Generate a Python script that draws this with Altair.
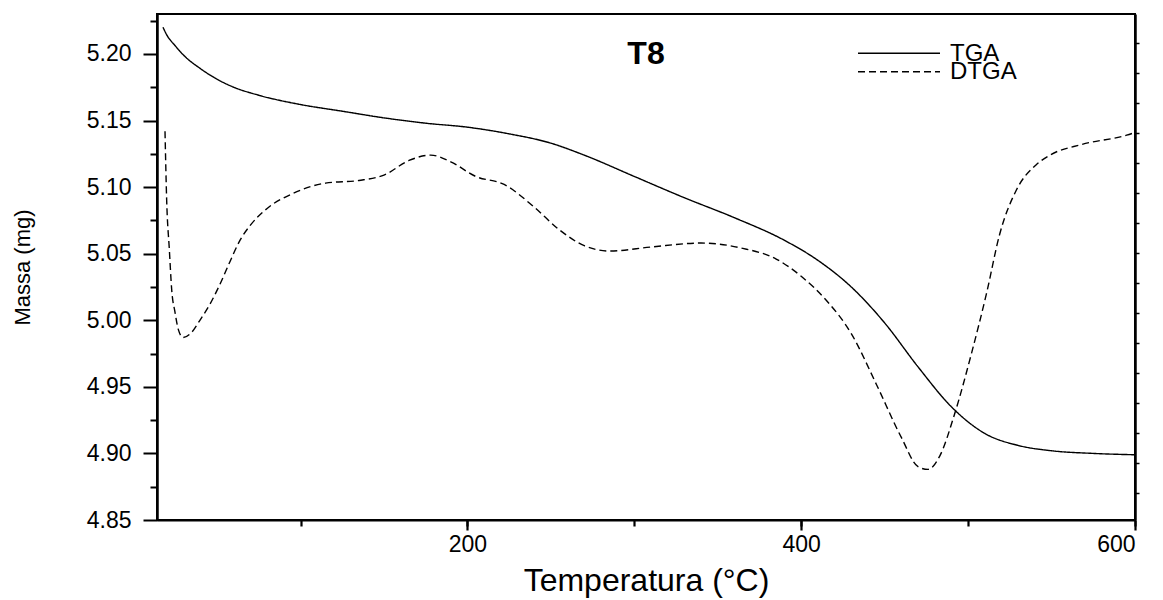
import altair as alt
import pandas as pd

# ---- data ----
tga_temp = [17.6, 20, 25, 30, 40, 50, 60, 75, 100, 125, 150, 175, 200, 225, 250, 270,
            300, 330, 360, 390, 410, 430, 450, 470, 490, 510, 530, 550, 575, 600]
tga_mass = [5.220, 5.214, 5.206, 5.199, 5.189, 5.181, 5.175, 5.169, 5.162, 5.157, 5.152,
            5.148, 5.145, 5.140, 5.133, 5.124, 5.108, 5.092, 5.077, 5.060, 5.045, 5.025,
            4.998, 4.965, 4.935, 4.915, 4.906, 4.902, 4.900, 4.899]

dtga_temp = [18.8, 19.8, 21.4, 22.8, 24.8, 26.8, 29.7, 34.8, 39.7, 45.7, 51.7, 57.7, 63.7,
             69.7, 80, 95, 115, 135, 150, 165, 178, 190, 205, 222, 240, 255, 270, 285, 310,
             340, 365, 385, 400, 415, 430, 445, 460, 470, 476, 483, 492, 502, 511, 519, 529,
             541, 549, 568, 595, 600]
dtga_mass = [5.142, 5.090, 5.053, 5.023, 5.006, 4.993, 4.987, 4.991, 5.000, 5.012, 5.027,
             5.044, 5.060, 5.071, 5.084, 5.095, 5.103, 5.105, 5.109, 5.120, 5.124, 5.119,
             5.108, 5.102, 5.085, 5.068, 5.056, 5.052, 5.055, 5.058, 5.054, 5.046, 5.033,
             5.015, 4.990, 4.952, 4.912, 4.890, 4.888, 4.898, 4.930, 4.975, 5.020, 5.065,
             5.098, 5.117, 5.124, 5.132, 5.139, 5.141]

series_names = ["TGA", "DTGA"]
x_major_ticks = [200, 400, 600]
x_minor_ticks = [100, 200, 300, 400, 500, 600]
y_major_ticks = [4.85, 4.90, 4.95, 5.00, 5.05, 5.10, 5.15, 5.20]
y_minor_ticks = [4.875, 4.925, 4.975, 5.025, 5.075, 5.125, 5.175, 5.225]
y_right_ticks = [5.208, 5.1855, 5.163, 5.1405, 5.118, 5.0955, 5.073, 5.0505, 5.028,
                 5.0055, 4.983, 4.9605, 4.938, 4.9155, 4.893, 4.8705]
chart_label = "T8"

# ---- styles ----
FONT = "Liberation Sans"
DASHES = [[1, 0], [7, 4]]
LINE_W = 1.4

df = pd.concat([
    pd.DataFrame({"temp": tga_temp, "mass": tga_mass, "series": series_names[0], "order": range(len(tga_temp))}),
    pd.DataFrame({"temp": dtga_temp, "mass": dtga_mass, "series": series_names[1], "order": range(len(dtga_temp))}),
], ignore_index=True)

xscale = alt.Scale(domain=[14, 600], nice=False, zero=False)
yscale = alt.Scale(domain=[4.85, 5.23], nice=False, zero=False)

lines = alt.Chart(df).mark_line(color="black", strokeWidth=LINE_W, interpolate="monotone").encode(
    x=alt.X("temp:Q", scale=xscale,
            axis=alt.Axis(orient="bottom", values=x_major_ticks, tickSize=10, tickWidth=2.2,
                          domainWidth=2, labelFontSize=23, labelPadding=3,
                          title="Temperatura (°C)", titleFontSize=32, titleFontWeight="normal",
                          titleY=60, titleBaseline="middle", grid=False)),
    y=alt.Y("mass:Q", scale=yscale,
            axis=alt.Axis(orient="left", values=y_major_ticks, format=".2f", tickSize=14,
                          tickWidth=2, domainWidth=2.5, labelFontSize=23, labelPadding=12,
                          title="Massa (mg)", titleFontSize=22, titleFontWeight="normal",
                          titleX=-135, titleY=253, titleAngle=-90, titleAlign="center",
                          titleBaseline="middle", grid=False)),
    order="order:Q",
    strokeDash=alt.StrokeDash("series:N",
                              scale=alt.Scale(domain=series_names, range=DASHES),
                              legend=None),
)

minor = alt.Chart(df).mark_point(opacity=0, size=1).encode(
    x=alt.X("temp:Q", scale=xscale,
            axis=alt.Axis(orient="bottom", values=x_minor_ticks, tickSize=6, tickWidth=2.2,
                          labels=False, domain=False, title="", grid=False)),
    y=alt.Y("mass:Q", scale=yscale,
            axis=alt.Axis(orient="left", values=y_minor_ticks, tickSize=7, tickWidth=2,
                          labels=False, domain=False, title="", grid=False)),
)

right = alt.Chart(df).mark_point(opacity=0, size=1).encode(
    x=alt.X("temp:Q", scale=xscale,
            axis=alt.Axis(orient="top", labels=False, ticks=False, domain=False, title="", grid=False)),
    y=alt.Y("mass:Q", scale=yscale,
            axis=alt.Axis(orient="right", values=y_right_ticks, tickSize=4, tickWidth=1.5,
                          labels=False, domainWidth=2.5, title="", grid=False)),
)

# ---- manual legend (inside the plot, top right) ----
legend_layers = []
for i, name in enumerate(series_names):
    one = alt.Chart(pd.DataFrame({"series": [name]}))
    yy = 39.3 + i * 18.4
    legend_layers.append(
        one.mark_rule(color="black", strokeWidth=LINE_W, strokeDash=DASHES[i]).encode(
            x=alt.value(701), x2=alt.value(783), y=alt.value(yy))
    )
    legend_layers.append(
        one.mark_text(align="left", baseline="middle", font=FONT, fontSize=24, color="black").encode(
            x=alt.value(793), y=alt.value(yy + 0.5), text="series:N")
    )

chart = alt.layer(lines, minor, right, *legend_layers).resolve_axis(
    x="independent", y="independent"
).properties(
    width=978, height=506,
    autosize=alt.AutoSizeParams(type="none"),
    padding={"left": 157, "top": 14, "right": 28, "bottom": 80},
    title=alt.TitleParams(chart_label, fontSize=32, fontWeight="bold", font=FONT, color="black",
                          anchor="middle", offset=-82, baseline="alphabetic"),
).configure_view(stroke="black", strokeWidth=2).configure_axis(
    labelFont=FONT, titleFont=FONT, labelColor="black", titleColor="black",
    tickColor="black", domainColor="black",
)

chart.save("out.html", embed_options={"renderer": "svg", "actions": False})
